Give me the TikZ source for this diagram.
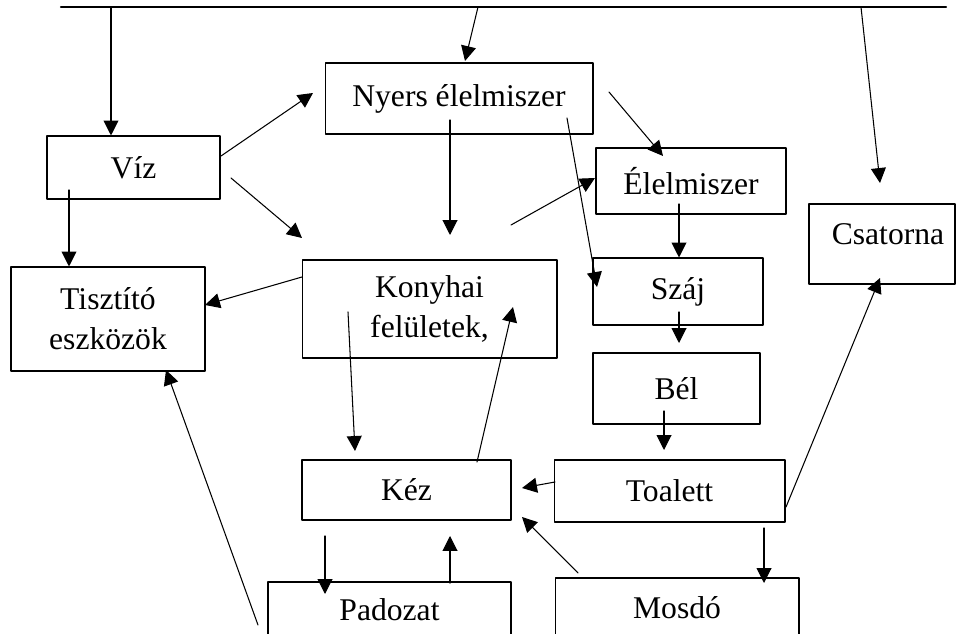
\documentclass[tikz,border=0pt]{standalone}
\usepackage{fontspec}
\setmainfont{Liberation Serif}
\usetikzlibrary{arrows.meta}

\begin{document}
\begin{tikzpicture}[line cap=round,line join=round,>={Triangle[length=8.5pt,width=8.5pt]},x=0.02cm,y=-0.02cm,
		box/.style={draw,line width=0.6pt,rectangle,inner sep=0pt,align=center,font=\fontsize{18}{22.7}\selectfont},
		link/.style={->,line width=0.6pt}]
			\clip(0,0) rectangle (957,634);
			%%%%%%%%%%%%%%% B O X E S %%%%%%%%%%%%%%%%
			%row 1
			\node[box,minimum width=5.36cm,minimum height=1.42cm] (nyers) at (459,98.5) {Nyers élelmiszer};
			\node[box,minimum width=3.46cm,minimum height=1.26cm] (viz) at (133.5,167.5) {Víz};
			\node[box,minimum width=3.80cm,minimum height=1.32cm] (elelm) at (691,181) {Élelmiszer};
			\node[box,minimum width=2.92cm,text height=0.82cm,text depth=0.78cm] (csatorna) at (882,244) {\hspace{0.24cm}Csatorna};
			%row 2
			\node[box,minimum width=3.88cm,minimum height=2.08cm] (tisztito) at (108,319) {Tisztító\\eszközök};
			\node[box,minimum width=5.10cm,minimum height=1.96cm] (konyhai) at (429.5,309) {Konyhai\\felületek,};
			\node[box,minimum width=3.40cm,minimum height=1.34cm] (szaj) at (678,291.5) {Száj};
			\node[box,minimum width=3.34cm,minimum height=1.42cm] (bel) at (676.5,388.5) {Bél};
			%row 3
			\node[box,minimum width=4.18cm,minimum height=1.20cm] (kez) at (406.5,490) {Kéz};
			\node[box,minimum width=4.62cm,minimum height=1.24cm] (toalett) at (669.5,491) {Toalett};
			%row 4
			\node[box,minimum width=4.86cm,minimum height=1.12cm] (padozat) at (389.5,610) {Padozat};
			\node[box,minimum width=4.88cm,minimum height=1.20cm] (mosdo) at (677,608) {Mosdó};
			%%%%%%%%%%%%%%% T O P   L I N E %%%%%%%%%%%%%%%%
			\coordinate (tl) at (61,7);
			\coordinate (tr) at (946,7);
			\coordinate (t1) at (111,7);
			\coordinate (t2) at (478,7);
			\coordinate (t3) at (861,7);
			\draw[line width=1.2pt] (tl) -- (tr);
			%%%%%%%%%%%%%%% A R R O W S %%%%%%%%%%%%%%%%
			%free ends
			\coordinate (n0) at (465,61);
			\coordinate (c0) at (880,183);
			\coordinate (vn1) at (221,156);
			\coordinate (vn2) at (313,93);
			\coordinate (vk1) at (231,178);
			\coordinate (vk2) at (302,238);
			\coordinate (vt) at (69,190);
			\coordinate (nk1) at (450,120);
			\coordinate (nk2) at (450,235);
			\coordinate (ns1) at (567,118);
			\coordinate (ns2) at (597,287);
			\coordinate (ne1) at (609,92);
			\coordinate (ne2) at (663,156);
			\coordinate (ke1) at (511,225);
			\coordinate (ke2) at (595,178);
			\coordinate (es) at (679,204);
			\coordinate (sb1) at (679,312);
			\coordinate (sb2) at (679,343);
			\coordinate (bt1) at (664,411);
			\coordinate (bt2) at (664,450);
			\coordinate (tk1) at (555,482);
			\coordinate (tk2) at (522,488);
			\coordinate (mk1) at (578,573);
			\coordinate (mk2) at (522,517);
			\coordinate (tc1) at (786,507);
			\coordinate (tc2) at (880,278);
			\coordinate (tm1) at (764,528);
			\coordinate (tm2) at (764,583);
			\coordinate (kt1) at (302,277);
			\coordinate (kt2) at (205,305);
			\coordinate (kk1) at (348,312);
			\coordinate (kk2) at (355,451);
			\coordinate (hk1) at (477,462);
			\coordinate (hk2) at (513,307);
			\coordinate (hp1) at (325,536);
			\coordinate (hp2) at (325,594);
			\coordinate (ph1) at (450,583);
			\coordinate (ph2) at (450,536);
			\coordinate (pt1) at (258,625);
			\coordinate (pt2) at (166,370);
			%from top line
			\draw[link] (t1) -- (t1 |- viz.north);
			\draw[link] (t2) -- (n0);
			\draw[link] (t3) -- (c0);
			%from Viz
			\draw[link] (vn1) -- (vn2);
			\draw[link] (vk1) -- (vk2);
			\draw[link] (vt) -- (vt |- tisztito.north);
			%from Nyers elelmiszer
			\draw[link] (nk1) -- (nk2);
			\draw[link] (ns1) -- (ns2);
			\draw[link] (ne1) -- (ne2);
			%food chain
			\draw[link] (ke1) -- (ke2);
			\draw[link] (es) -- (es |- szaj.north);
			\draw[link] (sb1) -- (sb2);
			\draw[link] (bt1) -- (bt2);
			%from Toalett
			\draw[link] (tk1) -- (tk2);
			\draw[link] (tc1) -- (tc2);
			\draw[link] (tm1) -- (tm2);
			\draw[link] (mk1) -- (mk2);
			%Konyhai feluletek, Kez, Padozat
			\draw[link] (kt1) -- (kt2);
			\draw[link] (kk1) -- (kk2);
			\draw[link] (hk1) -- (hk2);
			\draw[link] (hp1) -- (hp2);
			\draw[link] (ph1) -- (ph2);
			\draw[link] (pt1) -- (pt2);
		\end{tikzpicture}
\end{document}
